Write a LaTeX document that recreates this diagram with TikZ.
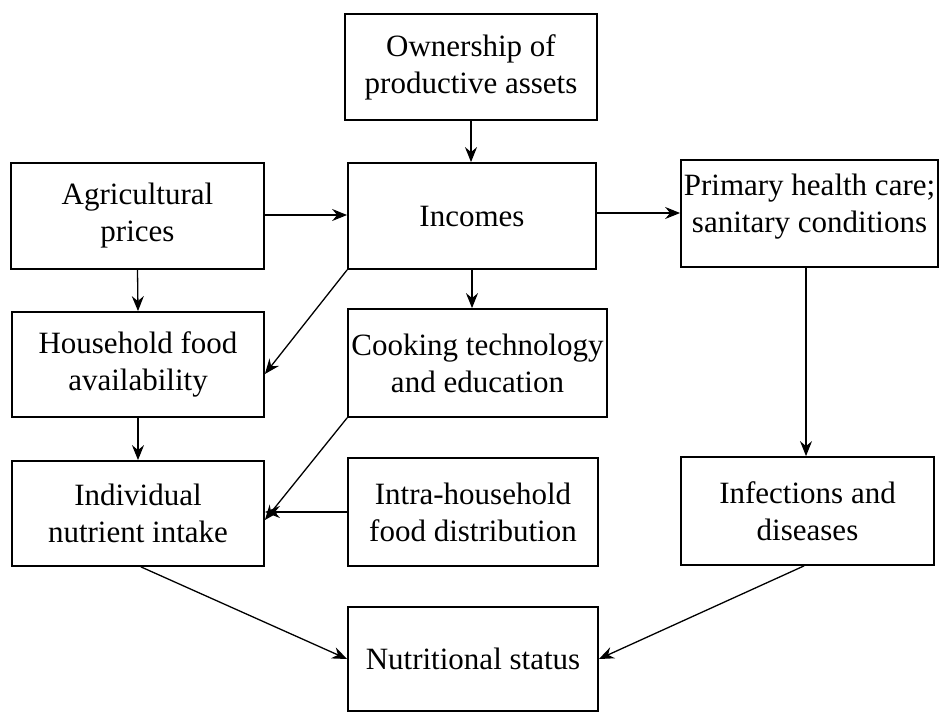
\documentclass[tikz,border=0pt]{standalone}
\usepackage{fontspec}
\setmainfont{Liberation Serif}
\usetikzlibrary{arrows.meta}
\begin{document}
\begin{tikzpicture}[x=1pt,y=-1pt,
  box/.style={draw, line width=1.8pt, minimum width=252pt, minimum height=106pt,
    align=center, inner sep=0pt, font=\fontsize{31}{37}\selectfont},
  conn/.style={line width=1.3pt, -{Stealth[length=15pt,width=12pt,inset=5pt]}}]
\useasboundingbox (0,0) rectangle (941,712);
\node[box] (own) at (471,67) {Ownership of\\productive assets};
\node[box, minimum width=253pt] (agri) at (137.5,216) {Agricultural\\prices};
\node[box, minimum width=248pt] (inc) at (472,216) {Incomes};
\node[box, minimum width=257pt, minimum height=107pt] (ph) at (809.5,213.5) {Primary health care;\\sanitary conditions\\[-17pt]};
\node[box, minimum height=105pt] (hh) at (138,364.5) {Household food\\availability};
\node[box, minimum width=259pt, minimum height=108pt] (cook) at (477.5,363) {Cooking technology\\and education};
\node[box, minimum height=105pt] (ind) at (138,513.5) {Individual\\nutrient intake};
\node[box, minimum width=250pt, minimum height=108pt] (intra) at (473,512) {Intra-household\\food distribution};
\node[box, minimum width=253pt, minimum height=108pt] (inf) at (807.5,511) {Infections and\\diseases};
\node[box, minimum width=250pt, minimum height=104pt] (nut) at (473,659) {Nutritional status};

\draw[conn] (own.south) -- (own.south |- inc.north);
\draw[conn] (agri.east |- 0,215) -- (inc.west |- 0,215);
\draw[conn] (inc.east |- 0,213) -- (ph.west |- 0,213);
\draw[conn] (agri.south) -- (hh.north);
\draw[conn] (inc.south west) -- ([yshift=-9.5pt]hh.east);
\draw[conn] (inc.south) -- (inc.south |- cook.north);
\draw[conn] ([xshift=-3.5pt]ph.south) -- ([xshift=-3.5pt]ph.south |- inf.north);
\draw[conn] (hh.south) -- (ind.north);
\draw[conn] (cook.south west) -- ([yshift=-6.5pt]ind.east);
\draw[conn] (intra.west) -- (intra.west -| ind.east);
\draw[conn] ([xshift=3pt]ind.south) -- (nut.west);
\draw[conn] ([xshift=-3.5pt]inf.south) -- (nut.east);
\end{tikzpicture}
\end{document}
